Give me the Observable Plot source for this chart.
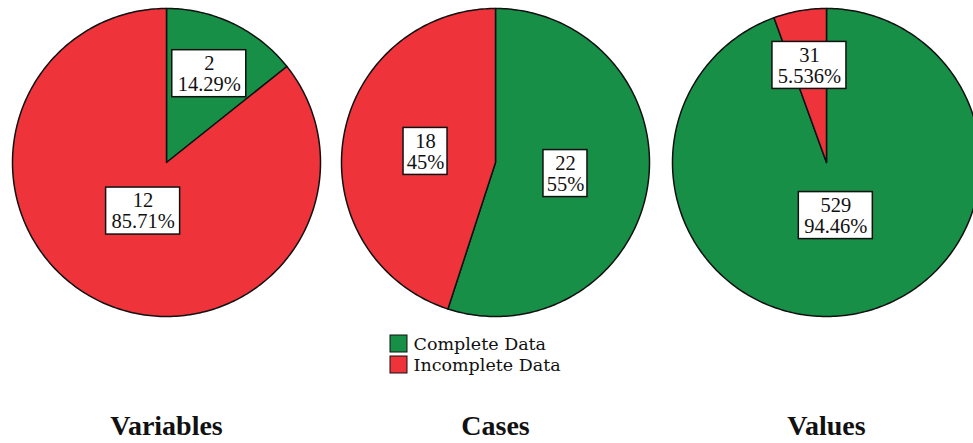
<!DOCTYPE html>
<html><head><meta charset="utf-8">
<script src="https://cdn.jsdelivr.net/npm/d3@7"></script>
<script src="https://cdn.jsdelivr.net/npm/@observablehq/plot@0.6"></script>
<style>body{margin:0;background:#fff;overflow:hidden}</style>
</head><body><div id="chart"></div>
<script>
const pieTitles = ["Variables", "Cases", "Values"];
const categories = ["Complete Data", "Incomplete Data"];
const completeCounts = [2, 22, 529];
const incompleteCounts = [12, 18, 31];
const completePct = ["14.29%", "55%", "94.46%"];
const incompletePct = ["85.71%", "45%", "5.536%"];
const colors = ["#178f47", "#ef333b"];

const W = 973, H = 443;
const centersX = [166, 495, 826], cy = 162, R = 154;

const poly = [];
const labels = [];
pieTitles.forEach((t, i) => {
  const vals = [completeCounts[i], incompleteCounts[i]];
  const pcts = [completePct[i], incompletePct[i]];
  const total = d3.sum(vals);
  let a0 = 0;
  vals.forEach((v, j) => {
    const f = v / total;
    const a1 = a0 + f * 2 * Math.PI;
    const id = t + "-" + j;
    const cx = centersX[i];
    poly.push({id, cat: categories[j], x: cx, y: cy});
    const n = Math.max(2, Math.ceil((a1 - a0) / (Math.PI / 180)));
    for (let k = 0; k <= n; k++) {
      const a = a0 + (a1 - a0) * k / n;
      poly.push({id, cat: categories[j], x: cx + R * Math.sin(a), y: cy - R * Math.cos(a)});
    }
    poly.push({id, cat: categories[j], x: cx, y: cy});
    const mid = (a0 + a1) / 2;
    const lr = (f < 0.2 ? 0.64 : (f > 0.75 ? 0.35 : 0.46)) * R;
    const maxLen = Math.max(String(v).length, pcts[j].length);
    labels.push({
      text: `${v}\n${pcts[j]}`,
      x: cx + lr * Math.sin(mid),
      y: cy - lr * Math.cos(mid),
      w: maxLen * 10 + 14,
      h: 47
    });
    a0 = a1;
  });
});

const legendItems = categories.map((c, j) => ({cat: c, j}));
const titleItems = pieTitles.map((t, i) => ({t, x: centersX[i]}));

const chart = Plot.plot({
  width: W, height: H,
  margin: 0,
  x: {type: "linear", domain: [0, W], range: [0, W], axis: null},
  y: {type: "linear", domain: [0, H], range: [0, H], axis: null},
  color: {domain: categories, range: colors},
  style: {background: "#fff"},
  marks: [
    Plot.line(poly, {x: "x", y: "y", z: "id", fill: "cat", stroke: "#111", strokeWidth: 1.5, strokeLinejoin: "round"}),
    Plot.rect(labels, {x1: d => d.x - d.w / 2, x2: d => d.x + d.w / 2, y1: d => d.y - d.h / 2, y2: d => d.y + d.h / 2, fill: "#fff", stroke: "#111", strokeWidth: 1.5}),
    Plot.text(labels, {x: "x", y: "y", text: "text", fontFamily: "Liberation Serif", fontSize: 20.5, lineHeight: 1.02, fill: "#111"}),
    Plot.rect(legendItems, {x1: 390, x2: 407, y1: d => 335 + d.j * 21, y2: d => 352 + d.j * 21, fill: "cat", stroke: "#111", strokeWidth: 1}),
    Plot.text(legendItems, {x: 413, y: d => 344 + d.j * 21, text: "cat", textAnchor: "start", fontFamily: "DejaVu Serif", fontSize: 17.5, fill: "#111"}),
    Plot.text(titleItems, {x: "x", y: 426, text: "t", fontFamily: "Liberation Serif", fontWeight: "bold", fontSize: 28, fill: "#111"})
  ]
});
document.getElementById("chart").append(chart);
</script>
</body></html>
